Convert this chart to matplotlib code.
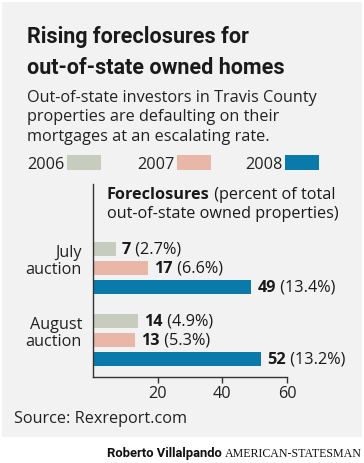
import matplotlib
matplotlib.use('Agg')
import matplotlib.pyplot as plt
import matplotlib.transforms as mtransforms
from matplotlib.patches import Rectangle
from matplotlib import font_manager as fm

# ---------------- data ----------------
auctions = ['July\nauction', 'August\nauction']
years = ['2006', '2007', '2008']
counts_2006 = [7, 14]
counts_2007 = [17, 13]
counts_2008 = [49, 52]
pct_2006 = [2.7, 4.9]
pct_2007 = [6.6, 5.3]
pct_2008 = [13.4, 13.2]
xticks = [20, 40, 60]
colors = ['#c6cdbf', '#e8b7a7', '#0a7aab']

title_lines = ['Rising foreclosures for', 'out-of-state owned homes']
subtitle_lines = ['Out-of-state investors in Travis County',
                  'properties are defaulting on their',
                  'mortgages at an escalating rate.']
source = 'Source: Rexreport.com'

# ---------------- fonts ----------------
def has(name, **kw):
    try:
        fm.findfont(fm.FontProperties(family=name, **kw), fallback_to_default=False)
        return True
    except Exception:
        return False

BODY = 'Open Sans' if has('Open Sans') else 'DejaVu Sans'
if has('Liberation Sans Narrow'):
    TITLE = dict(family='Liberation Sans Narrow', fontweight='bold')
elif has('Roboto'):
    TITLE = dict(family='Roboto', fontweight='bold')
else:
    TITLE = dict(family='DejaVu Sans', fontweight='bold')
SERIF = 'Liberation Serif' if has('Liberation Serif') else 'DejaVu Serif'

W, H = 364, 464
fig = plt.figure(figsize=(W / 100, H / 100), dpi=100)
fig.patch.set_facecolor('white')
T = mtransforms.Affine2D().scale(1 / W, -1 / H).translate(0, 1) + fig.transFigure
R = fig.canvas.get_renderer()

fig.patches.append(Rectangle((2, 3), 360, 435, transform=T, facecolor='#f3f2f2',
                             edgecolor='none', zorder=-5))

def fit(t, target):
    w = t.get_window_extent(R).width
    t.set_fontsize(t.get_fontsize() * target / w)
    return t.get_fontsize()

# title
t1 = fig.text(27, 74, title_lines[1], transform=T, fontsize=18, va='baseline',
              color='#1a1a1a', **TITLE)
tsize = fit(t1, 258)
fig.text(27, 43, title_lines[0], transform=T, fontsize=tsize, va='baseline',
         color='#1a1a1a', **TITLE)

# subtitle
s0 = fig.text(27, 102, subtitle_lines[0], transform=T, fontsize=12, family=BODY,
              va='baseline', color='#222222')
bsize = fit(s0, 288)
for yb, line in zip([121, 141], subtitle_lines[1:]):
    fig.text(27, yb, line, transform=T, fontsize=bsize, family=BODY,
             va='baseline', color='#222222')

# legend
leg_x = [27, 137, 245]
for x0, yr, c in zip(leg_x, years, colors):
    fig.text(x0, 169, yr, transform=T, fontsize=bsize, family=BODY,
             va='baseline', color='#222222')
    fig.patches.append(Rectangle((x0 + 40, 156), 34, 15, transform=T,
                                 facecolor=c, edgecolor='none', zorder=1))

# ---------------- axes ----------------
ax = fig.add_axes([93 / W, 1 - 378 / H, (287 - 93) / W, (378 - 185) / H])
ax.set_facecolor('none')
slot = 1.0
group_pos = [0.0, 3.79]
offsets = [-1, 0, 1]
bar_h = 0.77
series = [(counts_2006, pct_2006), (counts_2007, pct_2007), (counts_2008, pct_2008)]

for (cnts, pcts), off, c in zip(series, offsets, colors):
    ys = [g + off * slot for g in group_pos]
    ax.barh(ys, cnts, height=bar_h, color=c, zorder=2)
    for yv, cv, pv in zip(ys, cnts, pcts):
        a = ax.annotate(str(cv), xy=(cv, yv), xytext=(4.5, 0), textcoords='offset points',
                        va='center', ha='left', fontsize=bsize, family=BODY,
                        fontweight='bold', color='#1a1a1a', annotation_clip=False)
        ax.annotate(' (%.1f%%)' % pv, xy=(1, 0), xycoords=a, va='bottom', ha='left',
                    fontsize=bsize, family=BODY, color='#1a1a1a', annotation_clip=False)

ax.set_xlim(0, 60)
ax.set_ylim(5.74, -4.42)
for s in ['top', 'right']:
    ax.spines[s].set_visible(False)
for s in ['left', 'bottom']:
    ax.spines[s].set_color('#333333')
    ax.spines[s].set_linewidth(1.0)
ax.set_xticks(xticks)
ax.set_xticklabels([str(v) for v in xticks], fontsize=bsize, family=BODY, color='#222222')
ax.tick_params(axis='x', direction='out', length=4, width=1, color='#333333', pad=1.5)
ax.set_yticks([g - 0.5 for g in group_pos])
ax.set_yticklabels(auctions, fontsize=bsize, family=BODY, color='#222222',
                   linespacing=1.05)
ax.tick_params(axis='y', length=0, pad=8)

# header
h = fig.text(107, 199, 'Foreclosures', transform=T, fontsize=bsize, family=BODY,
             fontweight='bold', va='baseline', color='#1a1a1a')
ax.annotate(' (percent of total', xy=(1, 0), xycoords=h, va='bottom', ha='left',
            fontsize=bsize, family=BODY, color='#1a1a1a', annotation_clip=False)
fig.text(107, 218, 'out-of-state owned properties)', transform=T, fontsize=bsize,
         family=BODY, va='baseline', color='#1a1a1a')

# source
fig.text(14, 423, source, transform=T, fontsize=bsize, family=BODY, va='baseline',
         color='#222222')

# credit
c1 = fig.text(107, 457, 'Roberto Villalpando', transform=T, fontsize=12,
              va='baseline', color='#111111', **TITLE)
fit(c1, 115)
c2 = fig.text(225, 457, 'AMERICAN-STATESMAN', transform=T, fontsize=10, family=SERIF,
              va='baseline', color='#111111')
fit(c2, 137)

fig.savefig('out.png', dpi=100, facecolor='white')
